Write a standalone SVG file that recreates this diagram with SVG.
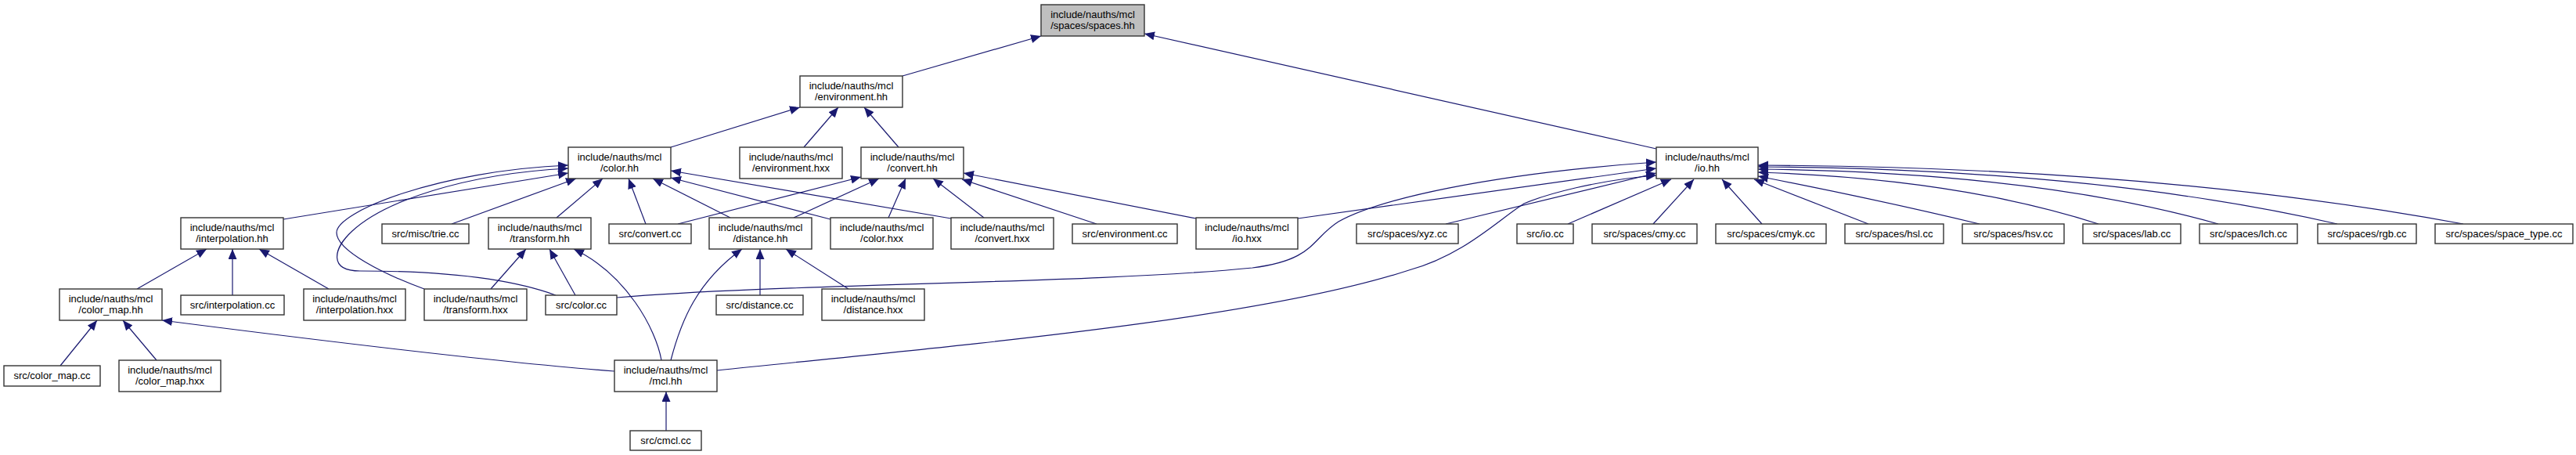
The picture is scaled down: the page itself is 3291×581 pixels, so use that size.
<svg xmlns="http://www.w3.org/2000/svg" width="3291" height="581" viewBox="0 0 3291 581">
<style>
.node rect{fill:#ffffff;stroke:#333333;stroke-width:1.4}
.root rect{fill:#bfbfbf}
text{font-family:"Liberation Sans",Arial,sans-serif;font-size:13px;text-anchor:middle;fill:#000000}
.edges path{fill:none;stroke:#191970;stroke-width:1.2;marker-end:url(#arr)}
</style>
<defs>
<marker id="arr" markerUnits="userSpaceOnUse" markerWidth="14" markerHeight="12" refX="13" refY="5.5" orient="auto">
<path d="M0,0 L13,5.5 L0,11 z" fill="#191970"/>
</marker>
</defs>
<rect x="0" y="0" width="3291" height="581" fill="#ffffff"/>
<g class="edges">
<path d="M1153,97 L1330,46"/>
<path d="M2116,190 L1462,43"/>
<path d="M857,188 L1022,137"/>
<path d="M1027,188 L1071,137"/>
<path d="M1148,188 L1104,137"/>
<path d="M362,280 L726,221"/>
<path d="M542,369 C490,350 430,320 430,297 C430,270 560,218 726,211"/>
<path d="M710,377 C650,355 560,346 460,346 C420,346 425,318 450,295 C490,258 590,222 726,215"/>
<path d="M577,286 L736,228"/>
<path d="M711,278 L770,228"/>
<path d="M825,286 L803,228"/>
<path d="M933,278 L834,228"/>
<path d="M1061,280 L857,227"/>
<path d="M1215,279 L857,218"/>
<path d="M866,286 L1100,226"/>
<path d="M1014,278 L1123,228"/>
<path d="M1135,278 L1157,228"/>
<path d="M1257,278 L1192,228"/>
<path d="M1401,286 L1229,229"/>
<path d="M1528,279 L1231,221"/>
<path d="M1658,279 L2116,215"/>
<path d="M788,380 C1000,362 1400,362 1600,342 C1680,332 1675,305 1710,283 C1760,255 1900,222 2116,207"/>
<path d="M916,473 C1200,443 1600,410 1800,345 C1870,326 1915,280 1947,260 C1975,248 2040,230 2116,224"/>
<path d="M1847,286 L2116,221"/>
<path d="M2003,286 L2135,229"/>
<path d="M2112,286 L2164,229"/>
<path d="M2251,286 L2200,229"/>
<path d="M2387,286 L2241,229"/>
<path d="M2529,286 Q2400,255 2246,225"/>
<path d="M2681,286 Q2500,228 2246,220"/>
<path d="M2834,286 Q2600,220 2246,216"/>
<path d="M2986,286 Q2680,216 2246,213"/>
<path d="M3147,286 Q2750,213 2246,211"/>
<path d="M297,377 L297,318"/>
<path d="M175,369 L264,318"/>
<path d="M420,369 L331,318"/>
<path d="M77,467 L124,409"/>
<path d="M200,460 L157,409"/>
<path d="M785,474 Q612,461 207,409"/>
<path d="M627,369 L672,318"/>
<path d="M735,377 L702,318"/>
<path d="M845,460 C838,420 800,350 733,318"/>
<path d="M971,377 L971,318"/>
<path d="M1084,369 L1004,318"/>
<path d="M857,460 C870,410 890,360 948,318"/>
<path d="M851,550 L851,500"/>
</g>
<g id="n_spaces_hh" class="node root"><rect x="1330" y="6" width="132" height="40"/><text x="1396" y="23">include/nauths/mcl</text><text x="1396" y="37">/spaces/spaces.hh</text></g>
<g id="n_environment_hh" class="node"><rect x="1022" y="97" width="131" height="40"/><text x="1087.5" y="114">include/nauths/mcl</text><text x="1087.5" y="128">/environment.hh</text></g>
<g id="n_color_hh" class="node"><rect x="726" y="188" width="131" height="40"/><text x="791.5" y="205">include/nauths/mcl</text><text x="791.5" y="219">/color.hh</text></g>
<g id="n_environment_hxx" class="node"><rect x="945" y="188" width="131" height="40"/><text x="1010.5" y="205">include/nauths/mcl</text><text x="1010.5" y="219">/environment.hxx</text></g>
<g id="n_convert_hh" class="node"><rect x="1100" y="188" width="131" height="40"/><text x="1165.5" y="205">include/nauths/mcl</text><text x="1165.5" y="219">/convert.hh</text></g>
<g id="n_io_hh" class="node"><rect x="2116" y="188" width="130" height="40"/><text x="2181" y="205">include/nauths/mcl</text><text x="2181" y="219">/io.hh</text></g>
<g id="n_interpolation_hh" class="node"><rect x="231" y="278" width="131" height="40"/><text x="296.5" y="295">include/nauths/mcl</text><text x="296.5" y="309">/interpolation.hh</text></g>
<g id="n_trie_cc" class="node"><rect x="488" y="286" width="111" height="25"/><text x="543.5" y="303">src/misc/trie.cc</text></g>
<g id="n_transform_hh" class="node"><rect x="624" y="278" width="131" height="40"/><text x="689.5" y="295">include/nauths/mcl</text><text x="689.5" y="309">/transform.hh</text></g>
<g id="n_convert_cc" class="node"><rect x="778" y="286" width="105" height="25"/><text x="830.5" y="303">src/convert.cc</text></g>
<g id="n_distance_hh" class="node"><rect x="906" y="278" width="131" height="40"/><text x="971.5" y="295">include/nauths/mcl</text><text x="971.5" y="309">/distance.hh</text></g>
<g id="n_color_hxx" class="node"><rect x="1061" y="278" width="131" height="40"/><text x="1126.5" y="295">include/nauths/mcl</text><text x="1126.5" y="309">/color.hxx</text></g>
<g id="n_convert_hxx" class="node"><rect x="1215" y="278" width="131" height="40"/><text x="1280.5" y="295">include/nauths/mcl</text><text x="1280.5" y="309">/convert.hxx</text></g>
<g id="n_environment_cc" class="node"><rect x="1370" y="286" width="134" height="25"/><text x="1437" y="303">src/environment.cc</text></g>
<g id="n_io_hxx" class="node"><rect x="1528" y="278" width="130" height="40"/><text x="1593" y="295">include/nauths/mcl</text><text x="1593" y="309">/io.hxx</text></g>
<g id="n_xyz_cc" class="node"><rect x="1733" y="286" width="130" height="25"/><text x="1798" y="303">src/spaces/xyz.cc</text></g>
<g id="n_io_cc" class="node"><rect x="1938" y="286" width="72" height="25"/><text x="1974" y="303">src/io.cc</text></g>
<g id="n_cmy_cc" class="node"><rect x="2034" y="286" width="134" height="25"/><text x="2101" y="303">src/spaces/cmy.cc</text></g>
<g id="n_cmyk_cc" class="node"><rect x="2192" y="286" width="141" height="25"/><text x="2262.5" y="303">src/spaces/cmyk.cc</text></g>
<g id="n_hsl_cc" class="node"><rect x="2357" y="286" width="126" height="25"/><text x="2420" y="303">src/spaces/hsl.cc</text></g>
<g id="n_hsv_cc" class="node"><rect x="2507" y="286" width="130" height="25"/><text x="2572" y="303">src/spaces/hsv.cc</text></g>
<g id="n_lab_cc" class="node"><rect x="2661" y="286" width="125" height="25"/><text x="2723.5" y="303">src/spaces/lab.cc</text></g>
<g id="n_lch_cc" class="node"><rect x="2810" y="286" width="125" height="25"/><text x="2872.5" y="303">src/spaces/lch.cc</text></g>
<g id="n_rgb_cc" class="node"><rect x="2961" y="286" width="126" height="25"/><text x="3024" y="303">src/spaces/rgb.cc</text></g>
<g id="n_space_type_cc" class="node"><rect x="3111" y="286" width="176" height="25"/><text x="3199" y="303">src/spaces/space_type.cc</text></g>
<g id="n_color_map_hh" class="node"><rect x="76" y="369" width="131" height="40"/><text x="141.5" y="386">include/nauths/mcl</text><text x="141.5" y="400">/color_map.hh</text></g>
<g id="n_interpolation_cc" class="node"><rect x="231" y="377" width="132" height="25"/><text x="297" y="394">src/interpolation.cc</text></g>
<g id="n_interpolation_hxx" class="node"><rect x="388" y="369" width="130" height="40"/><text x="453" y="386">include/nauths/mcl</text><text x="453" y="400">/interpolation.hxx</text></g>
<g id="n_transform_hxx" class="node"><rect x="542" y="369" width="131" height="40"/><text x="607.5" y="386">include/nauths/mcl</text><text x="607.5" y="400">/transform.hxx</text></g>
<g id="n_color_cc" class="node"><rect x="697" y="377" width="91" height="25"/><text x="742.5" y="394">src/color.cc</text></g>
<g id="n_distance_cc" class="node"><rect x="915" y="377" width="111" height="25"/><text x="970.5" y="394">src/distance.cc</text></g>
<g id="n_distance_hxx" class="node"><rect x="1050" y="369" width="131" height="40"/><text x="1115.5" y="386">include/nauths/mcl</text><text x="1115.5" y="400">/distance.hxx</text></g>
<g id="n_color_map_cc" class="node"><rect x="5" y="467" width="123" height="26"/><text x="66.5" y="484">src/color_map.cc</text></g>
<g id="n_color_map_hxx" class="node"><rect x="152" y="460" width="130" height="40"/><text x="217" y="477">include/nauths/mcl</text><text x="217" y="491">/color_map.hxx</text></g>
<g id="n_mcl_hh" class="node"><rect x="785" y="460" width="131" height="40"/><text x="850.5" y="477">include/nauths/mcl</text><text x="850.5" y="491">/mcl.hh</text></g>
<g id="n_cmcl_cc" class="node"><rect x="805" y="550" width="91" height="25"/><text x="850.5" y="567">src/cmcl.cc</text></g>
</svg>
